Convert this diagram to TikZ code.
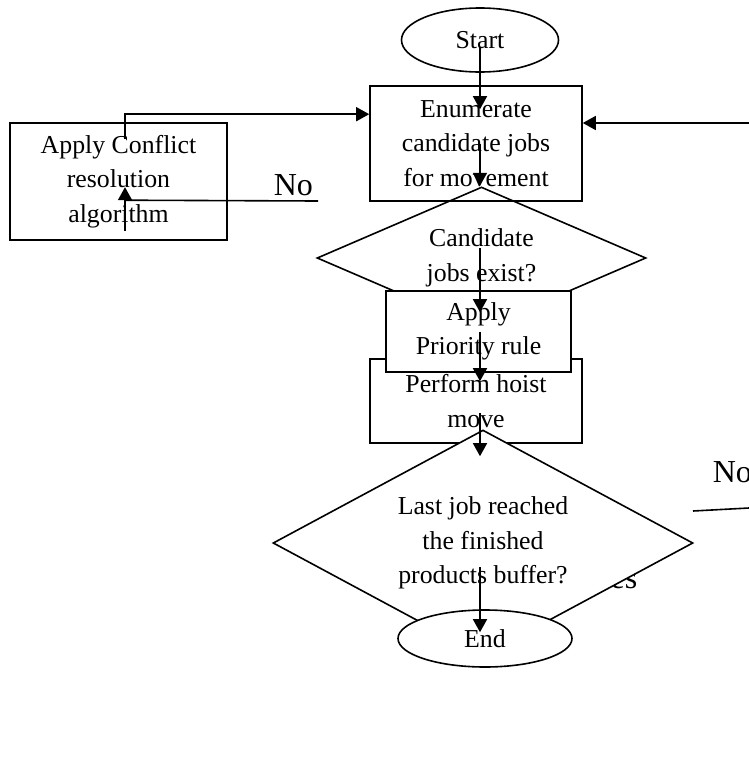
\documentclass[tikz,border=0pt]{standalone}
\usepackage{fontspec}
\setmainfont{Liberation Serif}
\usetikzlibrary{shapes.geometric,arrows.meta,calc}

\begin{document}
\begin{tikzpicture}[x=1pt,y=-1pt,line width=1.6pt]
	\tikzstyle{every node}+=[inner sep=0pt,align=center,font=\fontsize{25.8}{34.5}\selectfont]
	\tikzstyle{box}=[draw,rectangle]
	\tikzstyle{oval}=[draw,ellipse,fill=white]
	\tikzstyle{decision}=[draw,diamond]
	\tikzstyle{answer}=[anchor=base west,font=\fontsize{32}{38}\selectfont]
	\tikzstyle{arr}=[-{Triangle[length=13pt,width=14pt]}]
	\useasboundingbox (0,0) rectangle (749,782);
	\node [oval,minimum width=157pt,minimum height=64pt] (start) at (480,40) {Start};
	\node [box,minimum width=212pt,minimum height=115pt] (enum) at (476,143.5) {Enumerate\\candidate jobs\\for movement};
	\node [box,minimum width=217pt,minimum height=117pt] (conflict) at (118.5,181.5) {Apply Conflict\\resolution\\algorithm};
	\node [decision,aspect=2.3,minimum width=329pt,minimum height=142pt] (cand) at (481.5,258) {Candidate\\jobs exist?};
	\node [box,minimum width=212pt,minimum height=84pt] (perform) at (476,401) {Perform hoist\\move};
	\node [box,fill=white,minimum width=185pt,minimum height=81pt] (prio) at (478.5,331.5) {Apply\\Priority rule};
	\node [answer] (yes) at (590,588) {Yes};
	\node [decision,fill=white,aspect=1.86,minimum width=420pt,minimum height=226pt] (last) at (483,543) {Last job reached\\the finished\\products buffer?};
	\node [oval,minimum width=174pt,minimum height=57pt] (finish) at (485,638.5) {End};
	\node [answer] (noleft) at (273,195) {No};
	\node [answer] (noright) at (712,482) {No};
	\coordinate (back) at (749,123);
	\coordinate (nofrom) at (318,201);
	\coordinate (notail) at (693,511);
	\coordinate (noedge) at (749,508);
	\draw [arr] ($(start)+(0,7)$) -- ($(start |- enum.north)+(0,24)$);
	\draw [arr] (start |- enum.center) -- ($(start |- enum.south)+(0,-16)$);
	\draw [arr] ($(start |- cand)+(0,-10)$) -- ($(start |- prio.north)+(0,22)$);
	\draw [arr] (start |- prio) -- ($(start |- perform.north)+(0,23)$);
	\draw [arr] ($(start |- perform)+(0,12)$) -- ($(start |- last.north)+(0,27)$);
	\draw [arr] ($(start |- last)+(0,24)$) -- ($(start |- finish.north)+(0,23)$);
	\draw [arr] (back) -- (enum.east |- back);
	\draw [arr] ($(conflict.north)+(6.5,17)$) |- ($(enum.north west)+(0,29)$);
	\draw (nofrom) -- ($(conflict.north)+(6.5,78)$);
	\draw [arr] ($(conflict.south)+(6.5,-10)$) -- ($(conflict.north)+(6.5,65)$);
	\draw (notail) -- (noedge);
\end{tikzpicture}
\end{document}
